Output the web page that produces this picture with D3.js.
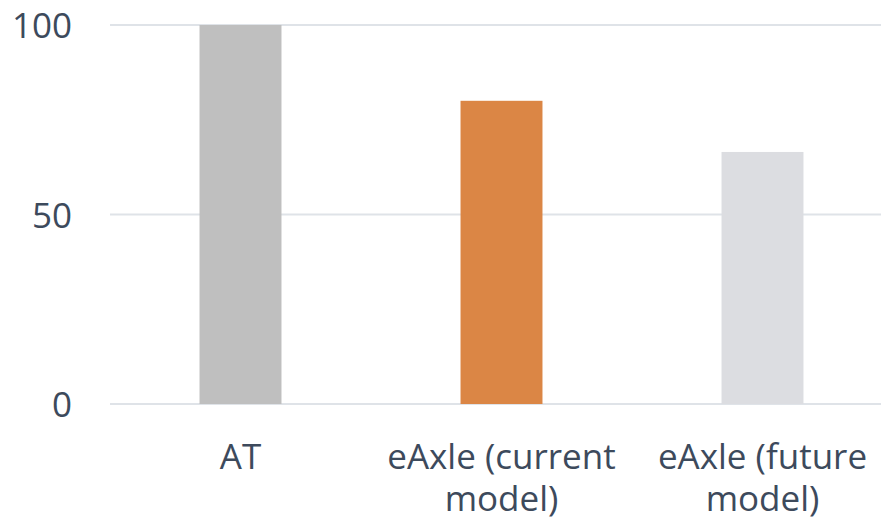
<!DOCTYPE html>
<html>
<head>
<meta charset="utf-8">
<script src="https://cdn.jsdelivr.net/npm/d3@7"></script>
<style>
  html, body { margin: 0; padding: 0; background: #fff; }
  svg { display: block; }
  text { font-family: "Open Sans", "Noto Sans", sans-serif; fill: #3d4a5c; }
</style>
</head>
<body>
<svg id="chart" width="881" height="523"></svg>
<script>
// Relative index per drivetrain configuration
const categories = ["AT", "eAxle (current model)", "eAxle (future model)"];
const labelLines = [["AT"], ["eAxle (current", "model)"], ["eAxle (future", "model)"]];
const values = [100, 80, 66.5];
const barColors = ["#bfbfbf", "#db8645", "#dcdde1"];
const yTicks = [0, 50, 100];

const svg = d3.select("#chart");
const W = 881, H = 523;
const fontSize = 35;

const x = d3.scaleBand()
  .domain(categories)
  .range([110, 893])
  .paddingInner(0.686)
  .paddingOuter(0.343);

const y = d3.scaleLinear().domain([0, 100]).range([404, 25]);

// Horizontal gridlines
svg.append("g")
  .selectAll("line")
  .data(yTicks)
  .join("line")
  .attr("x1", 110)
  .attr("x2", W)
  .attr("y1", d => y(d))
  .attr("y2", d => y(d))
  .attr("stroke", "#dfe3e8")
  .attr("stroke-width", 2);

// Y tick labels
const yAxis = d3.axisLeft(y).tickValues(yTicks).tickSize(0).tickPadding(0);
const gy = svg.append("g").attr("transform", "translate(72,0)").call(yAxis);
gy.select(".domain").remove();
gy.selectAll("text")
  .attr("font-size", fontSize)
  .attr("font-family", "\"Open Sans\", \"Noto Sans\", sans-serif")
  .attr("fill", "#3d4a5c")
  .attr("dy", "0.36em");

// Bars
svg.append("g")
  .selectAll("rect")
  .data(categories)
  .join("rect")
  .attr("x", d => x(d))
  .attr("width", x.bandwidth())
  .attr("y", (d, i) => y(values[i]))
  .attr("height", (d, i) => y(0) - y(values[i]))
  .attr("fill", (d, i) => barColors[i]);

// Category labels (wrapped onto two lines)
const lab = svg.append("g")
  .selectAll("text")
  .data(categories)
  .join("text")
  .attr("text-anchor", "middle")
  .attr("font-size", fontSize)
  .attr("x", d => x(d) + x.bandwidth() / 2)
  .attr("y", 469);
lab.selectAll("tspan")
  .data((d, i) => labelLines[i].map(t => ({ t, cx: x(d) + x.bandwidth() / 2 })))
  .join("tspan")
  .attr("x", d => d.cx)
  .attr("dy", (d, i) => i === 0 ? 0 : 42)
  .text(d => d.t);
</script>
</body>
</html>
